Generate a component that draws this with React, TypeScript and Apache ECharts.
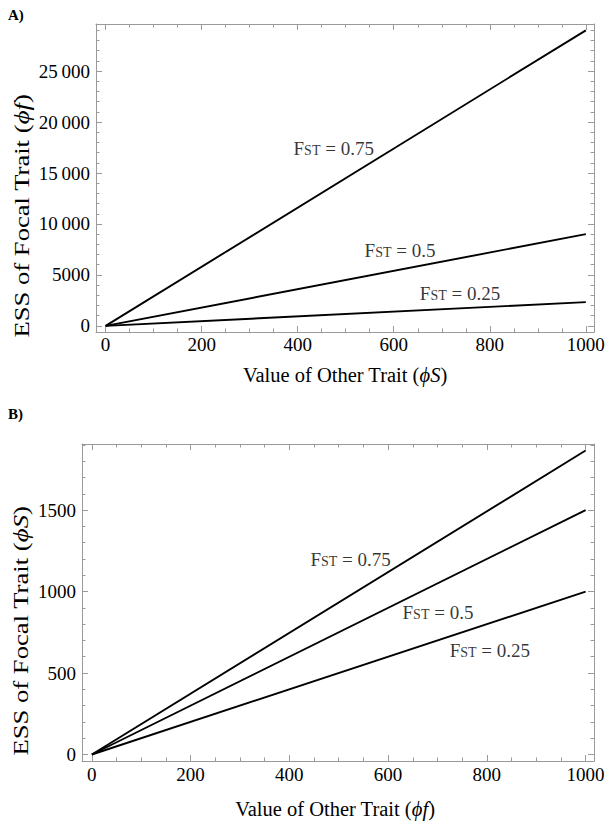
import React, { useEffect, useRef } from "react";
import * as echarts from "echarts";

// ---------- data ----------
const xEnds = [0, 1000];
const essA_025 = [0, 2333];
const essA_05 = [0, 9000];
const essA_075 = [0, 29000];
const essB_025 = [0, 1000];
const essB_05 = [0, 1500];
const essB_075 = [0, 1866];

const fstLabels = ["0.25", "0.5", "0.75"];
// label anchors in data coordinates (panel A / panel B), same order as fstLabels
const labelPosA = [[738, 3210], [613, 7440], [475, 17450]];
const labelPosB = [[806, 641], [701, 874], [524, 1199]];

const xTickValues = [0, 200, 400, 600, 800, 1000];
const xTickLabels = ["0", "200", "400", "600", "800", "1000"];
const yTickValuesA = [0, 5000, 10000, 15000, 20000, 25000];
const yTickLabelsA = ["0", "5000", "10\u2009000", "15\u2009000", "20\u2009000", "25\u2009000"];
const yTickValuesB = [0, 500, 1000, 1500];
const yTickLabelsB = ["0", "500", "1000", "1500"];

const xTitleA = "{n|Value of Other Trait (}{i|ϕS}{n|)}";
const xTitleB = "{n|Value of Other Trait (}{i|ϕf}{n|)}";
const yTitleA = "{n|ESS of Focal Trait (}{i|ϕf}{n|)}";
const yTitleB = "{n|ESS of Focal Trait (}{i|ϕS}{n|)}";

const FONT = "'Liberation Serif', 'Times New Roman', serif";
const FRAME = "#9a9a9a";

const lookup = (vals: number[], labs: string[]) => (v: number) => {
  const i = vals.indexOf(Math.round(v));
  return i >= 0 ? labs[i] : "";
};

const titleRich = {
  n: { fontFamily: FONT, fontSize: 20.5, fill: "#000", color: "#000" },
  i: { fontFamily: FONT, fontSize: 20.5, fill: "#000", color: "#000", fontStyle: "italic" },
};

function xAxes(gridIndex: number, min: number, max: number, labelMargin: number) {
  const common: any = {
    type: "value",
    gridIndex,
    min,
    max,
    splitNumber: 5,
    minInterval: 200,
    maxInterval: 200,
    axisLine: { onZero: false, lineStyle: { color: FRAME, width: 1 } },
    axisTick: { inside: true, length: 6, lineStyle: { color: FRAME } },
    minorTick: { show: true, splitNumber: 4, length: 3.5, lineStyle: { color: FRAME } },
    splitLine: { show: false },
    minorSplitLine: { show: false },
  };
  return [
    {
      ...common,
      position: "bottom",
      axisLabel: {
        formatter: lookup(xTickValues, xTickLabels),
        fontFamily: FONT,
        fontSize: 19,
        color: "#000",
        margin: labelMargin,
      },
    },
    { ...common, position: "top", axisLabel: { show: false } },
  ];
}

function yAxes(
  gridIndex: number,
  min: number,
  max: number,
  interval: number,
  splitNumber: number,
  vals: number[],
  labs: string[]
) {
  const common: any = {
    type: "value",
    gridIndex,
    min,
    max,
    splitNumber,
    minInterval: interval,
    maxInterval: interval,
    axisLine: { show: true, onZero: false, lineStyle: { color: FRAME, width: 1 } },
    axisTick: { show: true, inside: true, length: 6, lineStyle: { color: FRAME } },
    minorTick: { show: true, splitNumber: 5, length: 3.5, lineStyle: { color: FRAME } },
    splitLine: { show: false },
    minorSplitLine: { show: false },
  };
  return [
    {
      ...common,
      position: "left",
      axisLabel: {
        formatter: lookup(vals, labs),
        fontFamily: FONT,
        fontSize: 19,
        color: "#000",
        margin: 6,
      },
    },
    { ...common, position: "right", axisLabel: { show: false } },
  ];
}

const labelRich = {
  f: { fontFamily: FONT, fontSize: 19, color: "#000", verticalAlign: "bottom" },
  s: { fontFamily: FONT, fontSize: 14, color: "#000", verticalAlign: "bottom" },
  n: { fontFamily: FONT, fontSize: 19, color: "#000", verticalAlign: "bottom" },
};

function lineSeries(xIdx: number, yIdx: number, ys: number[]) {
  return {
    type: "line",
    xAxisIndex: xIdx,
    yAxisIndex: yIdx,
    data: xEnds.map((x, i) => [x, ys[i]]),
    symbol: "none",
    lineStyle: { color: "#000", width: 1.9 },
    silent: true,
  };
}

function labelSeries(xIdx: number, yIdx: number, pos: number[][]) {
  return {
    type: "scatter",
    xAxisIndex: xIdx,
    yAxisIndex: yIdx,
    symbolSize: 0,
    silent: true,
    itemStyle: { color: "transparent" },
    data: pos.map((p, i) => ({
      value: p,
      label: {
        show: true,
        position: "inside",
        formatter: `{f|F}{s|ST}{n| = ${fstLabels[i]}}`,
        rich: labelRich,
      },
    })),
  };
}

function titleText(text: string, x: number, y: number, vertical: boolean) {
  return {
    type: "text",
    x,
    y,
    rotation: vertical ? Math.PI / 2 : 0,
    scaleX: vertical ? 1.3 : 1,
    silent: true,
    style: {
      text,
      rich: titleRich,
      fontFamily: FONT,
      fontSize: 20.5,
      fill: "#000",
      align: "center",
      verticalAlign: "middle",
    },
  };
}

export default function App() {
  const ref = useRef<HTMLDivElement>(null);
  useEffect(() => {
    if (!ref.current) return;
    const chart = echarts.init(ref.current, null, { renderer: "svg" });
    const option: any = {
      animation: false,
      backgroundColor: "#fff",
      grid: [
        { left: 96, top: 24, width: 498, height: 308 },
        { left: 82, top: 444, width: 512, height: 317 },
      ],
      xAxis: [...xAxes(0, -20, 1017, 3), ...xAxes(1, -20, 1017, 4)],
      yAxis: [
        ...yAxes(0, -600, 29620, 5000, 6, yTickValuesA, yTickLabelsA),
        ...yAxes(1, -40, 1906, 500, 4, yTickValuesB, yTickLabelsB),
      ],
      series: [
        lineSeries(0, 0, essA_025),
        lineSeries(0, 0, essA_05),
        lineSeries(0, 0, essA_075),
        labelSeries(0, 0, labelPosA),
        lineSeries(2, 2, essB_025),
        lineSeries(2, 2, essB_05),
        lineSeries(2, 2, essB_075),
        labelSeries(2, 2, labelPosB),
      ],
      graphic: [
        {
          type: "text",
          left: 8,
          top: 7,
          style: { text: "A)", fontFamily: FONT, fontSize: 15, fontWeight: "bold", fill: "#000" },
        },
        {
          type: "text",
          left: 8,
          top: 406,
          style: { text: "B)", fontFamily: FONT, fontSize: 15, fontWeight: "bold", fill: "#000" },
        },
        titleText(xTitleA, 345, 375, false),
        titleText(xTitleB, 335, 809, false),
        titleText(yTitleA, 22, 216, true),
        titleText(yTitleB, 21, 631, true),
      ],
    };
    chart.setOption(option);
    return () => chart.dispose();
  }, []);
  return (
    <div
      ref={ref}
      style={{ position: "absolute", left: 0, top: 0, width: 612, height: 821, background: "#fff" }}
    />
  );
}
